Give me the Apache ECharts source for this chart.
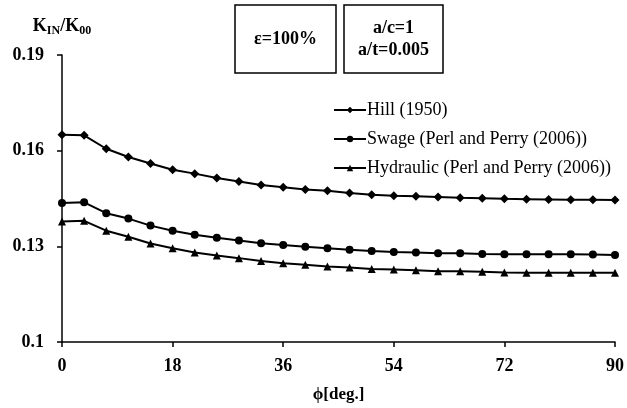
<!DOCTYPE html>
<html>
<head>
<meta charset="utf-8">
<script src="https://cdn.jsdelivr.net/npm/echarts@6/dist/echarts.min.js"></script>
<style>
  html, body { margin: 0; padding: 0; background: #fff; }
  #main { width: 627px; height: 408px; }
</style>
</head>
<body>
<div id="main"></div>
<script>
// phi in degrees, every 3.6 deg
var phi = [0, 3.6, 7.2, 10.8, 14.4, 18, 21.6, 25.2, 28.8, 32.4, 36, 39.6, 43.2,
  46.8, 50.4, 54, 57.6, 61.2, 64.8, 68.4, 72, 75.6, 79.2, 82.8, 86.4, 90];

var hill = [0.1650, 0.1648, 0.1606, 0.1580, 0.1560, 0.1540, 0.1528, 0.1514, 0.1503, 0.1492,
  0.1485, 0.1478, 0.1474, 0.1467, 0.1462, 0.1459, 0.1457, 0.1455, 0.1452, 0.1451,
  0.1449, 0.1448, 0.1447, 0.1446, 0.1446, 0.1445];
var swage = [0.1436, 0.1438, 0.1404, 0.1387, 0.1365, 0.1349, 0.1336, 0.1327, 0.1318, 0.1310,
  0.1304, 0.1299, 0.1294, 0.1289, 0.1285, 0.1282, 0.1281, 0.1278, 0.1278, 0.1276,
  0.1275, 0.1275, 0.1275, 0.1275, 0.1274, 0.1273];
var hydraulic = [0.1378, 0.1380, 0.1349, 0.1330, 0.1309, 0.1294, 0.1281, 0.1271, 0.1263, 0.1254,
  0.1247, 0.1242, 0.1237, 0.1234, 0.1229, 0.1227, 0.1225, 0.1222, 0.1222, 0.1220,
  0.1218, 0.1217, 0.1217, 0.1217, 0.1217, 0.1217];

var names = ['Hill (1950)', 'Swage (Perl and Perry (2006))', 'Hydraulic (Perl and Perry (2006))'];
var xTicks = [0, 18, 36, 54, 72, 90];
var yTicks = [0.1, 0.13, 0.16, 0.19];

function pairs(ys) {
  return ys.map(function (y, i) { return [phi[i], y]; });
}

var serif = 'Liberation Serif, Times New Roman, serif';
var myChart = echarts.init(document.getElementById('main'));

function mkSeries(name, data, symbol, size) {
  return {
    name: name,
    type: 'line',
    data: pairs(data),
    symbol: symbol,
    symbolSize: size,
    showAllSymbol: true,
    lineStyle: { color: '#000', width: 2 },
    itemStyle: { color: '#000' }
  };
}

myChart.setOption({
  animation: false,
  grid: { left: 62, right: 11, top: 55, bottom: 64 },
  legend: {
    orient: 'vertical',
    left: 328,
    top: 96,
    itemWidth: 32,
    itemHeight: 8,
    itemGap: 11,
    textStyle: { fontFamily: serif, fontSize: 18, color: '#000', padding: [0, 0, 0, -4] },
    data: names
  },
  xAxis: {
    type: 'value',
    min: 0,
    max: 90,
    interval: 18,
    name: 'ϕ[deg.]',
    nameLocation: 'middle',
    nameGap: 44,
    nameTextStyle: { fontFamily: serif, fontSize: 17, fontWeight: 'bold', color: '#000' },
    axisLine: { lineStyle: { color: '#000', width: 1.5 } },
    axisTick: { show: true, length: 5, lineStyle: { color: '#000', width: 1.5 } },
    axisLabel: {
      margin: 15,
      fontFamily: serif, fontSize: 18, fontWeight: 'bold', color: '#000',
      formatter: function (v) { return xTicks.indexOf(v) >= 0 ? v : ''; }
    },
    splitLine: { show: false }
  },
  yAxis: {
    type: 'value',
    min: 0.1,
    max: 0.19,
    interval: 0.03,
    name: '{m|K}{s|IN}{m|/K}{s|00}',
    nameLocation: 'end',
    nameGap: 20,
    nameTextStyle: {
      rich: {
        m: { fontFamily: serif, fontSize: 18, fontWeight: 'bold', color: '#000', verticalAlign: 'bottom' },
        s: { fontFamily: serif, fontSize: 12, fontWeight: 'bold', color: '#000', verticalAlign: 'bottom', padding: [0, 0, -2, 0] }
      }
    },
    axisLine: { show: true, lineStyle: { color: '#000', width: 1.5 } },
    axisTick: { show: true, length: 5, lineStyle: { color: '#000', width: 1.5 } },
    axisLabel: {
      margin: 18,
      fontFamily: serif, fontSize: 18, fontWeight: 'bold', color: '#000',
      formatter: function (v) {
        var r = Math.round(v * 100) / 100;
        return yTicks.indexOf(r) >= 0 ? String(r) : '';
      }
    },
    splitLine: { show: false }
  },
  graphic: [
    {
      type: 'rect', x: 235, y: 5,
      shape: { width: 101, height: 68 },
      style: { fill: '#fff', stroke: '#000', lineWidth: 1.5 }
    },
    {
      type: 'text', x: 285.5, y: 39,
      style: {
        text: 'ε=100%', font: 'bold 18px ' + serif, fill: '#000',
        align: 'center', verticalAlign: 'middle'
      }
    },
    {
      type: 'rect', x: 344, y: 5,
      shape: { width: 99, height: 68 },
      style: { fill: '#fff', stroke: '#000', lineWidth: 1.5 }
    },
    {
      type: 'text', x: 393.5, y: 39,
      style: {
        text: 'a/c=1\na/t=0.005', font: 'bold 18px ' + serif, fill: '#000',
        align: 'center', verticalAlign: 'middle', lineHeight: 22
      }
    }
  ],
  series: [
    mkSeries(names[0], hill, 'diamond', 9),
    mkSeries(names[1], swage, 'circle', 8),
    mkSeries(names[2], hydraulic, 'triangle', 8)
  ]
});
</script>
</body>
</html>
